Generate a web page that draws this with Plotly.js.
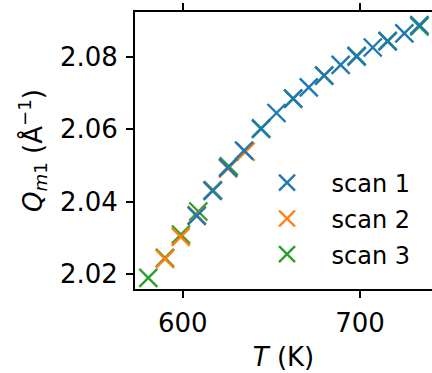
<!DOCTYPE html>
<html><head><meta charset="utf-8">
<script src="https://cdn.plot.ly/plotly-3.0.1.min.js"></script>
<style>body{margin:0;padding:0;background:#fff}#chart{width:432px;height:373px}</style>
</head><body><div id="chart"></div>
<script>
const seriesNames = ["scan 1", "scan 2", "scan 3"];
const seriesColors = ["#1f77b4", "#ff7f0e", "#2ca02c"];
const T1 = [607.9, 616.9, 625.6, 634.6, 644.2, 652.9, 662.3, 671.1, 679.8, 689.1, 698.1, 707.2, 715.6, 725.0, 733.5];
const Q1 = [2.0361, 2.0430, 2.0494, 2.0541, 2.0601, 2.0645, 2.0685, 2.0716, 2.0748, 2.0778, 2.0801, 2.0826, 2.0843, 2.0865, 2.0888];
const T2 = [590.0, 598.9, 607.9, 616.9, 625.6, 635.5];
const Q2 = [2.0242, 2.0303, 2.0363, 2.0431, 2.0492, 2.0538];
const T3 = [580.6, 590.0, 599.0, 608.8, 617.0, 626.0, 644.2, 662.3, 679.8, 698.1, 715.6, 733.5];
const Q3 = [2.0190, 2.0245, 2.0309, 2.0373, 2.0432, 2.0498, 2.0603, 2.0685, 2.0749, 2.0803, 2.0844, 2.0884];
const xTicks = [600, 700];
const yTicks = [2.02, 2.04, 2.06, 2.08];
const yTickText = ["2.02", "2.04", "2.06", "2.08"];

const xs = [T1, T2, T3], ys = [Q1, Q2, Q3];
const legendIds = ["legend", "legend2", "legend3"];
const legendY = [0.3827, 0.253, 0.1243];
// draw scan 3 first so scan 1 ends on top
const traces = [2, 1, 0].map(i => ({
  x: xs[i], y: ys[i], type: "scatter", mode: "markers", name: seriesNames[i],
  legend: legendIds[i],
  marker: {symbol: "x-thin", size: 18, color: seriesColors[i], line: {width: 2.4, color: seriesColors[i]}},
  cliponaxis: false
}));
const font = {family: "DejaVu Sans", size: 26, color: "#000"};
const legFont = {family: "DejaVu Sans", size: 24, color: "#000"};
const layout = {
  width: 432, height: 373,
  margin: {l: 135, r: 0, t: 12, b: 83.5},
  paper_bgcolor: "#fff", plot_bgcolor: "#fff",
  font: font,
  showlegend: true,
  xaxis: {
    range: [573.1, 740.6], tickvals: xTicks, ticks: "outside", ticklen: 7, tickwidth: 1.8,
    tickcolor: "#000", showline: true, linecolor: "#000", linewidth: 2, mirror: "allticks",
    showgrid: false, zeroline: false, tickfont: font, ticklabelstandoff: 3,
    title: {text: "<i>T</i> (K)", font: font, standoff: 11}
  },
  yaxis: {
    range: [2.0159, 2.0924], tickvals: yTicks, ticktext: yTickText, ticks: "outside", ticklen: 7, tickwidth: 1.8,
    tickcolor: "#000", showline: true, linecolor: "#000", linewidth: 2, mirror: false,
    showgrid: false, zeroline: false, tickfont: font, ticklabelstandoff: 3,
    title: {text: "<i>Q</i><sub><i>m</i>1</sub> (Å<sup>−1</sup>)", font: font, standoff: 10}
  }
};
legendIds.forEach((id, i) => {
  layout[id] = {x: 0.362, y: legendY[i], xanchor: "left", yanchor: "middle", bgcolor: "rgba(0,0,0,0)",
    font: legFont, itemwidth: 79};
});
Plotly.newPlot("chart", traces, layout, {displayModeBar: false, staticPlot: true});
</script></body></html>
